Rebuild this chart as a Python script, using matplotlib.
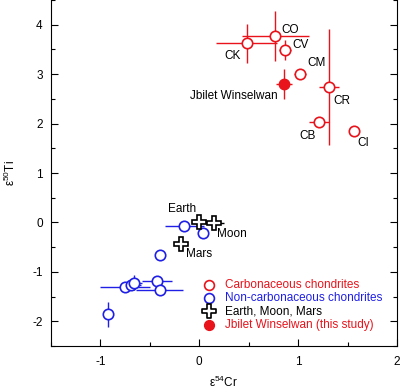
import numpy as np
from matplotlib import pyplot as plt
from matplotlib.ticker import MultipleLocator

plt.rcParams['font.family'] = ['Liberation Sans', 'DejaVu Sans']
plt.rcParams['axes.unicode_minus'] = False

# 碳质球粒陨石
cc_names = ['CO', 'CK', 'CV', 'CM', 'CR', 'CB', 'CI']
cc_cr = [0.77, 0.48, 0.87, 1.02, 1.31, 1.21, 1.56]
cc_cr_err = [0.34, 0.31, 0.06, 0.06, 0.10, 0.10, 0.05]
cc_ti = [3.77, 3.62, 3.49, 3.01, 2.74, 2.04, 1.85]
cc_ti_err = [0.50, 0.40, 0.20, 0.06, 1.18, 0.06, 0.06]

# 非碳质球粒陨石
nc_cr = [-0.15, 0.04, -0.40, -0.43, -0.40, -0.75, -0.69, -0.66, -0.92]
nc_cr_err = [0.20, 0.03, 0.03, 0.15, 0.24, 0.25, 0.10, 0.08, 0.03]
nc_ti = [-0.07, -0.21, -0.66, -1.18, -1.37, -1.30, -1.26, -1.22, -1.86]
nc_ti_err = [0.03, 0.03, 0.03, 0.05, 0.05, 0.05, 0.05, 0.15, 0.26]

# 地球、月球、火星
emm_names = ['Earth', 'Moon', 'Mars']
emm_cr = [0.0, 0.15, -0.19]
emm_cr_err = [0.0, 0.1, 0.0]
emm_ti = [0.0, -0.02, -0.44]

# Jbilet Winselwan
jw_cr, jw_cr_err = 0.86, 0.08
jw_ti, jw_ti_err = 2.80, 0.30

red = '#e8131b'
blue = '#1f1fe6'

fig = plt.figure(figsize=(4, 3.91), dpi=100)
ax = fig.add_axes([51 / 400, 45 / 391, 346 / 400, 346 / 391])

ax.errorbar(cc_cr, cc_ti, xerr=cc_cr_err, yerr=cc_ti_err, fmt='o', color=red,
            mfc='white', mec=red, ms=7.5, mew=1.2, elinewidth=1.0, capsize=0, zorder=3)
ax.errorbar(nc_cr, nc_ti, xerr=nc_cr_err, yerr=nc_ti_err, fmt='o', color=blue,
            mfc='white', mec=blue, ms=7.5, mew=1.2, elinewidth=1.0, capsize=0, zorder=3)
ax.errorbar(emm_cr, emm_ti, xerr=emm_cr_err, fmt='P', color='black',
            mfc='white', mec='black', ms=10, mew=1.2, elinewidth=1.0, capsize=0, zorder=4)
ax.errorbar(jw_cr, jw_ti, xerr=jw_cr_err, yerr=jw_ti_err, fmt='o', color=red,
            mfc=red, mec=red, ms=7.5, elinewidth=1.0, capsize=0, zorder=4)

# 标注
fs = 8.5
offsets = {'CO': (4, 0, 'left', 'bottom'), 'CK': (-4, -5, 'right', 'top'),
           'CV': (5, -1, 'left', 'bottom'), 'CM': (5, 3, 'left', 'bottom'),
           'CR': (3, -6, 'left', 'top'), 'CB': (-2, -6, 'right', 'top'),
           'CI': (3, -4, 'left', 'top')}
for n, x, y in zip(cc_names, cc_cr, cc_ti):
    dx, dy, ha, va = offsets[n]
    ax.annotate(n, (x, y), xytext=(dx, dy), textcoords='offset points',
                ha=ha, va=va, fontsize=fs)
ax.annotate('Jbilet Winselwan', (jw_cr, jw_ti), xytext=(-5, -4), textcoords='offset points',
            ha='right', va='top', fontsize=fs)
emm_off = {'Earth': (-2, 5, 'right', 'bottom'), 'Moon': (2, -3, 'left', 'top'),
           'Mars': (4, -3, 'left', 'top')}
for n, x, y in zip(emm_names, emm_cr, emm_ti):
    dx, dy, ha, va = emm_off[n]
    ax.annotate(n, (x, y), xytext=(dx, dy), textcoords='offset points',
                ha=ha, va=va, fontsize=fs)

# 图例
leg_labels = ['Carbonaceous chondrites', 'Non-carbonaceous chondrites',
              'Earth, Moon, Mars', 'Jbilet Winselwan (this study)']
leg_colors = [red, blue, 'black', red]
h1 = ax.scatter([], [], marker='o', facecolor='white', edgecolor=red, s=50, linewidth=1.2)
h2 = ax.scatter([], [], marker='o', facecolor='white', edgecolor=blue, s=50, linewidth=1.2)
h3 = ax.scatter([], [], marker='P', facecolor='white', edgecolor='black', s=90, linewidth=1.2)
h4 = ax.scatter([], [], marker='o', facecolor=red, edgecolor=red, s=50)
leg = ax.legend([h1, h2, h3, h4], leg_labels, loc='lower right', bbox_to_anchor=(0.972, 0.03),
                frameon=False, fontsize=fs, handletextpad=0.9, labelspacing=0.12,
                handlelength=1.0, borderaxespad=0)
for t, c in zip(leg.get_texts(), leg_colors):
    t.set_color(c)

ax.set_xlim(-1.5, 2)
ax.set_ylim(-2.5, 4.5)
ax.xaxis.set_major_locator(MultipleLocator(1))
ax.xaxis.set_minor_locator(MultipleLocator(0.5))
ax.yaxis.set_major_locator(MultipleLocator(1))
ax.yaxis.set_minor_locator(MultipleLocator(0.5))
ax.tick_params(which='both', direction='in', right=True, labelsize=fs, width=0.8)
ax.tick_params(which='major', length=5)
ax.tick_params(which='minor', length=3)
ax.tick_params(axis='x', pad=7)
ax.tick_params(axis='y', pad=6)
ax.spines['top'].set_visible(False)
for s in ['left', 'right', 'bottom']:
    ax.spines[s].set_linewidth(0.8)
ax.set_xlabel(r'$\mathregular{\varepsilon^{54}}$Cr', fontsize=fs, labelpad=5)
ax.set_ylabel(r'$\mathregular{\varepsilon^{50}}$Ti', fontsize=fs, labelpad=10)

fig.savefig('out.png', dpi=100)
